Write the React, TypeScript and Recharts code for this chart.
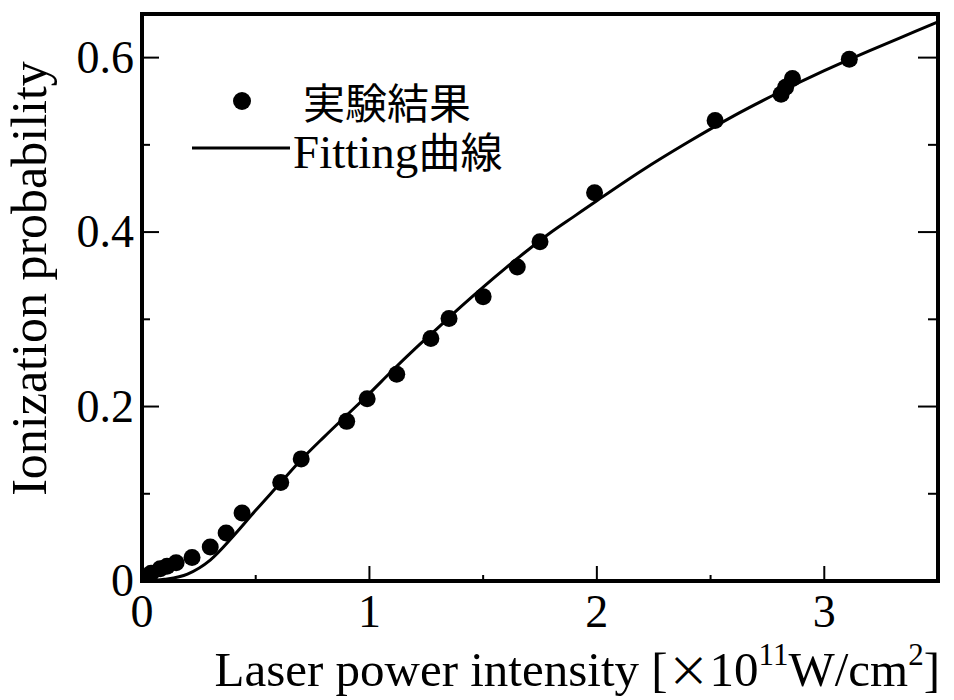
import React from "react";
import {
  ComposedChart,
  Line,
  Scatter,
  XAxis,
  YAxis,
  Legend,
} from "recharts";

// Experimental points (laser intensity in 1e11 W/cm^2, ionization probability)
const expX = [0.01, 0.04, 0.08, 0.11, 0.15, 0.22, 0.3, 0.37, 0.44, 0.61, 0.7, 0.9, 0.99, 1.12, 1.27, 1.35, 1.5, 1.65, 1.75, 1.99, 2.52, 2.81, 2.83, 2.86, 3.11];
const expY = [0.005, 0.009, 0.014, 0.017, 0.021, 0.027, 0.039, 0.055, 0.078, 0.113, 0.14, 0.183, 0.209, 0.237, 0.278, 0.301, 0.326, 0.36, 0.389, 0.445, 0.528, 0.558, 0.566, 0.576, 0.598];

// Fitting curve
const fitX = [0, 0.1, 0.2, 0.3, 0.4, 0.5, 0.6, 0.7, 0.8, 0.9, 1.0, 1.1, 1.2, 1.3, 1.4, 1.5, 1.6, 1.7, 1.8, 1.9, 2.0, 2.2, 2.4, 2.6, 2.8, 3.0, 3.2, 3.4, 3.5];
const fitY = [0, 0.002, 0.008, 0.024, 0.051, 0.081, 0.11, 0.139, 0.165, 0.19, 0.215, 0.241, 0.266, 0.29, 0.314, 0.337, 0.359, 0.38, 0.4, 0.418, 0.436, 0.471, 0.503, 0.533, 0.56, 0.585, 0.608, 0.63, 0.641];

const xTicks = [0, 0.5, 1, 1.5, 2, 2.5, 3, 3.5];
const xLabels = [0, 1, 2, 3];
const yTicks = [0, 0.1, 0.2, 0.3, 0.4, 0.5, 0.6];
const yLabels = ["0", "0.2", "0.4", "0.6"];

const expName = "実験結果";
const fitName = "Fitting曲線";

const SERIF = '"Liberation Serif", "DejaVu Serif", serif';
const CJK = '"Noto Sans CJK JP", "Noto Sans CJK SC", sans-serif';

const expData = expX.map((x, i) => ({ x, y: expY[i] }));
const fitData = fitX.map((x, i) => ({ x, y: fitY[i] }));

const isMajorX = (v: number) => Number.isInteger(v);
const isMajorY = (v: number) => Math.abs(v * 10) % 2 < 0.01;

const frame = { stroke: "#000", strokeWidth: 4, strokeLinecap: "square" as const };

function BottomTick({ x, y, payload }: any) {
  const v = payload.value;
  const major = isMajorX(v);
  return (
    <g>
      <line x1={x} x2={x} y1={y} y2={y - (major ? 15 : 6)} stroke="#000" strokeWidth={2} />
      {xLabels.includes(v) && (
        <text x={x} y={y + 46} textAnchor="middle" fontSize={46} fontFamily={SERIF} fill="#000">
          {v}
        </text>
      )}
    </g>
  );
}

function TopTick({ x, y, payload }: any) {
  const major = isMajorX(payload.value);
  return <line x1={x} x2={x} y1={y} y2={y + (major ? 17 : 8)} stroke="#000" strokeWidth={2} />;
}

function LeftTick({ x, y, payload }: any) {
  const v = payload.value;
  const major = isMajorY(v);
  const label = yLabels.find((l) => Math.abs(Number(l) - v) < 1e-6);
  return (
    <g>
      <line x1={x} x2={x + (major ? 17 : 8)} y1={y} y2={y} stroke="#000" strokeWidth={2} />
      {label && (
        <text x={x - 8} y={y + 15} textAnchor="end" fontSize={46} fontFamily={SERIF} fill="#000">
          {label}
        </text>
      )}
    </g>
  );
}

function RightTick({ x, y, payload }: any) {
  const major = isMajorY(payload.value);
  return <line x1={x} x2={x - (major ? 20 : 10)} y1={y} y2={y} stroke="#000" strokeWidth={2} />;
}

function Dot({ cx, cy }: any) {
  return <circle cx={cx} cy={cy} r={8.5} fill="#000" />;
}

function LegendBox({ payload }: any) {
  const items = payload || [];
  const exp = items.find((p: any) => p.value === expName);
  const fit = items.find((p: any) => p.value === fitName);
  return (
    <svg width={360} height={110} style={{ overflow: "visible" }}>
      {exp && (
        <g>
          <circle cx={57} cy={26} r={9} fill="#000" />
          <text x={118} y={25} dominantBaseline="central" fontSize={42} fontFamily={CJK} fill="#000">
            {exp.value}
          </text>
        </g>
      )}
      {fit && (
        <g>
          <line x1={7} x2={105} y1={73} y2={73} stroke="#000" strokeWidth={3} />
          <text x={108} y={93} fontSize={47} fontFamily={SERIF} fill="#000">
            Fitting
            <tspan fontFamily={CJK} fontSize={42}>曲線</tspan>
          </text>
        </g>
      )}
    </svg>
  );
}

function YTitle({ viewBox }: any) {
  const cx = viewBox.x + viewBox.width - 96;
  const cy = viewBox.y + viewBox.height / 2 - 19;
  return (
    <text x={cx} y={cy} transform={`rotate(-90, ${cx}, ${cy})`} textAnchor="middle" fontSize={50} fontFamily={SERIF} fill="#000">
      Ionization probability
    </text>
  );
}

function XTitle({ viewBox }: any) {
  const xr = viewBox.x + viewBox.width + 2;
  const yb = viewBox.y + 105;
  return (
    <text x={xr} y={yb} textAnchor="end" fontSize={49} fontFamily={SERIF} fill="#000">
      Laser power intensity [
      <tspan fontFamily={CJK} fontSize={42}>×</tspan>
      10
      <tspan fontSize={31} dy={-21}>11</tspan>
      <tspan dy={21}>W/cm</tspan>
      <tspan fontSize={31} dy={-21}>2</tspan>
      <tspan dy={21}>]</tspan>
    </text>
  );
}

export default function App() {
  return (
    <div style={{ position: "absolute", left: 0, top: 0, background: "#fff" }}>
      <ComposedChart width={954} height={700} margin={{ top: 13, right: 15, bottom: 118, left: 141 }}>
        <XAxis
          xAxisId="x"
          dataKey="x"
          type="number"
          domain={[0, 3.5]}
          ticks={xTicks}
          interval={0}
          height={1}
          tickSize={0}
          tickMargin={0}
          tick={<BottomTick />}
          axisLine={frame}
          allowDataOverflow
          label={<XTitle />}
        />
        <XAxis
          xAxisId="top"
          orientation="top"
          type="number"
          domain={[0, 3.5]}
          ticks={xTicks}
          interval={0}
          height={1}
          tickSize={0}
          tickMargin={0}
          tick={<TopTick />}
          axisLine={frame}
          allowDataOverflow
        />
        <YAxis
          yAxisId="y"
          dataKey="y"
          type="number"
          domain={[0, 0.65]}
          ticks={yTicks}
          interval={0}
          width={1}
          tickSize={0}
          tickMargin={0}
          tick={<LeftTick />}
          axisLine={frame}
          allowDataOverflow
          label={<YTitle />}
        />
        <YAxis
          yAxisId="right"
          orientation="right"
          type="number"
          domain={[0, 0.65]}
          ticks={yTicks}
          interval={0}
          width={1}
          tickSize={0}
          tickMargin={0}
          tick={<RightTick />}
          axisLine={frame}
          allowDataOverflow
        />
        <Line
          xAxisId="x"
          yAxisId="y"
          data={fitData}
          dataKey="y"
          name={fitName}
          type="monotone"
          stroke="#000"
          strokeWidth={3}
          dot={false}
          legendType="line"
          isAnimationActive={false}
        />
        <Scatter
          xAxisId="x"
          yAxisId="y"
          data={expData}
          dataKey="y"
          name={expName}
          fill="#000"
          shape={<Dot />}
          legendType="circle"
          isAnimationActive={false}
        />
        <Legend
          layout="horizontal"
          verticalAlign="middle"
          align="center"
          content={<LegendBox />}
          wrapperStyle={{ position: "absolute", left: 185, top: 75, width: 360, height: 110 }}
        />
      </ComposedChart>
    </div>
  );
}
